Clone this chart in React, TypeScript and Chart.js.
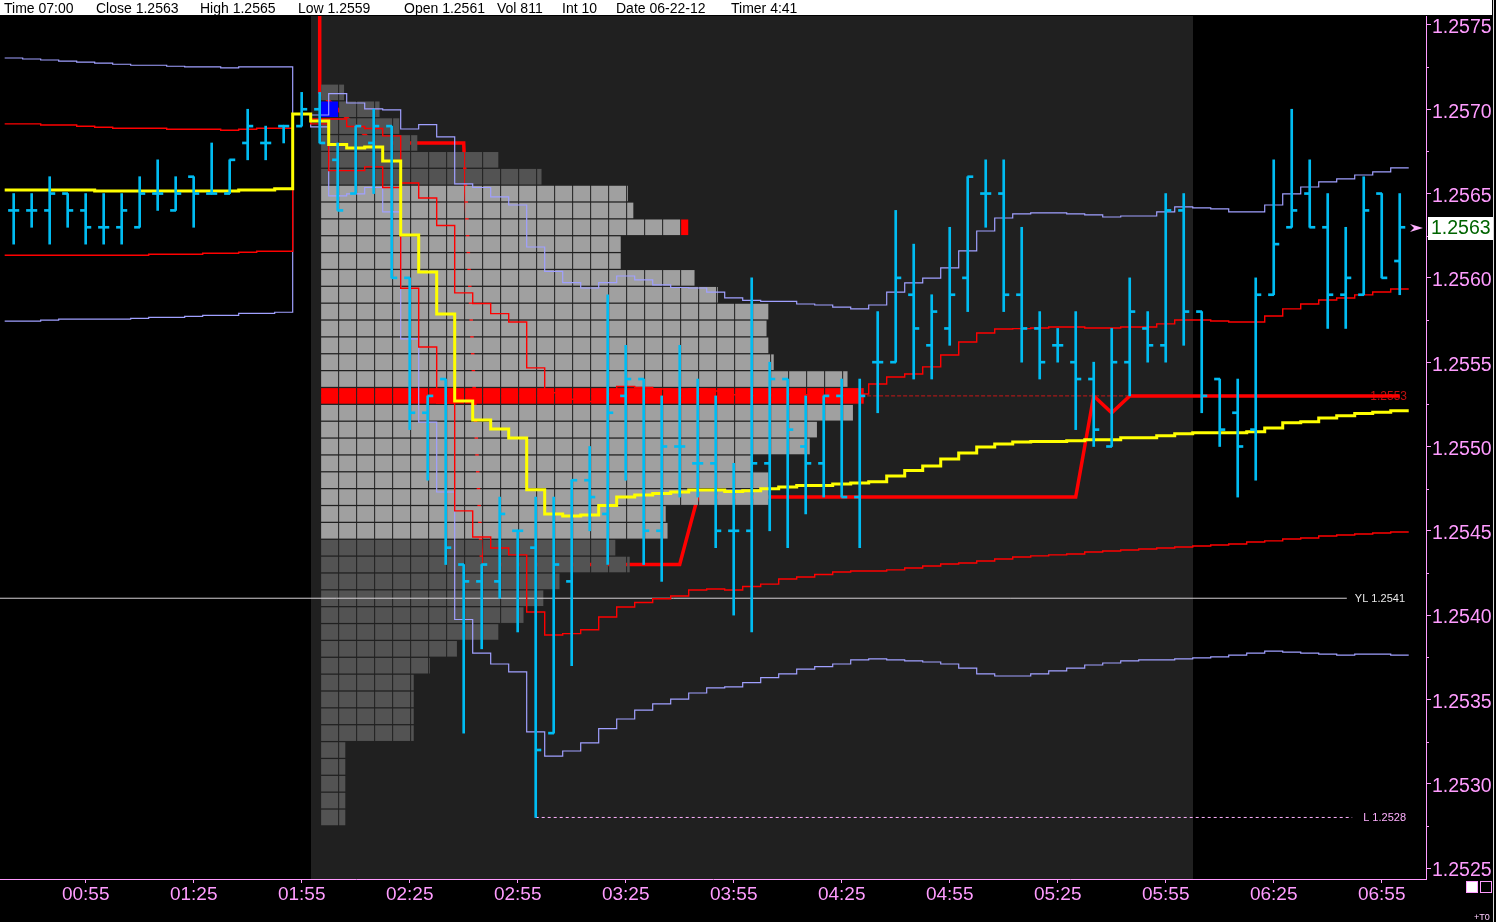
import React, { useEffect, useRef } from 'react';
import { Chart, registerables } from 'chart.js';

Chart.register(...registerables);

// ---------- header ----------
const headerItems = ['Time 07:00', 'Close 1.2563', 'High 1.2565', 'Low 1.2559', 'Open 1.2561', 'Vol 811', 'Int 10', 'Date 06-22-12', 'Timer 4:41'];

// ---------- axes ----------
const xTickLabels = ['00:55', '01:25', '01:55', '02:25', '02:55', '03:25', '03:55', '04:25', '04:55', '05:25', '05:55', '06:25', '06:55'];
const yTickLabels = ['1.2525', '1.2530', '1.2535', '1.2540', '1.2545', '1.2550', '1.2555', '1.2560', '1.2565', '1.2570', '1.2575'];

// ---------- 5-minute bars ----------
const barTimes = ['00:35','00:40','00:45','00:50','00:55','01:00','01:05','01:10','01:15','01:20','01:25','01:30','01:35','01:40','01:45','01:50','01:55',
  '02:00','02:05','02:10','02:15','02:20','02:25','02:30','02:35','02:40','02:45','02:50','02:55',
  '03:00','03:05','03:10','03:15','03:20','03:25','03:30','03:35','03:40','03:45','03:50','03:55',
  '04:00','04:05','04:10','04:15','04:20','04:25','04:30','04:35','04:40','04:45','04:50','04:55',
  '05:00','05:05','05:10','05:15','05:20','05:25','05:30','05:35','05:40','05:45','05:50','05:55',
  '06:00','06:05','06:10','06:15','06:20','06:25','06:30','06:35','06:40','06:45','06:50','06:55','07:00'];

const opens = [1.2564,1.2564,1.2564,1.2565,1.2564,1.2563,1.2563,1.2563,1.2565,1.2564,1.2566,1.2565,1.2565,1.2568,1.2568,1.2569,1.2569,
  1.2570,1.2567,1.2565,1.2568,1.2569,1.2560,1.2552,1.2554,1.2543,1.2542,1.2542,1.2545,
  1.2544,1.2533,1.2542,1.2548,1.2546,1.2553,1.2554,1.2545,1.2550,1.2549,1.2549,1.2545,
  1.2545,1.2549,1.2554,1.2550,1.2549,1.2553,1.2547,1.2555,1.2555,1.2559,1.2556,1.2557,
  1.2560,1.2565,1.2565,1.2559,1.2557,1.2556,1.2555,1.2554,1.2550,1.2555,1.2557,1.2556,
  1.2564,1.2558,1.2554,1.2552,1.2551,1.2559,1.2563,1.2565,1.2563,1.2559,1.2559,1.2565,1.2561];
const highs = [1.2565,1.2565,1.2566,1.2565,1.2565,1.2565,1.2565,1.2566,1.2567,1.2566,1.2566,1.2568,1.2567,1.2570,1.2569,1.2569,1.2571,
  1.2571,1.2568,1.2569,1.2570,1.2569,1.2560,1.2553,1.2554,1.2543,1.2543,1.2547,1.2545,
  1.2547,1.2547,1.2548,1.2550,1.2559,1.2556,1.2554,1.2553,1.2556,1.2554,1.2553,1.2549,
  1.2560,1.2555,1.2554,1.2553,1.2553,1.2554,1.2554,1.2558,1.2564,1.2562,1.2559,1.2563,
  1.2566,1.2567,1.2567,1.2563,1.2558,1.2557,1.2558,1.2555,1.2557,1.2560,1.2558,1.2565,
  1.2565,1.2558,1.2554,1.2554,1.2560,1.2567,1.2570,1.2567,1.2565,1.2563,1.2566,1.2565,1.2565];
const lows = [1.2562,1.2563,1.2562,1.2563,1.2562,1.2562,1.2562,1.2563,1.2564,1.2564,1.2563,1.2565,1.2565,1.2567,1.2567,1.2568,1.2569,
  1.2568,1.2564,1.2565,1.2565,1.2560,1.2551,1.2548,1.2543,1.2533,1.2538,1.2541,1.2539,
  1.2528,1.2533,1.2537,1.2545,1.2543,1.2548,1.2543,1.2542,1.2547,1.2547,1.2544,1.2540,
  1.2539,1.2545,1.2544,1.2546,1.2547,1.2547,1.2544,1.2552,1.2555,1.2554,1.2554,1.2556,
  1.2558,1.2563,1.2558,1.2555,1.2554,1.2555,1.2551,1.2550,1.2550,1.2553,1.2555,1.2555,
  1.2556,1.2552,1.2550,1.2547,1.2548,1.2559,1.2563,1.2563,1.2557,1.2557,1.2559,1.2560,1.2559];
const closes = [1.2564,1.2564,1.2565,1.2564,1.2563,1.2563,1.2564,1.2565,1.2565,1.2565,1.2565,1.2565,1.2567,1.2569,1.2568,1.2569,1.2570,
  1.2568,1.2564,1.2569,1.2569,1.2560,1.2552,1.2553,1.2544,1.2542,1.2543,1.2546,1.2545,
  1.2532,1.2543,1.2548,1.2547,1.2552,1.2554,1.2545,1.2550,1.2550,1.2549,1.2545,1.2545,
  1.2549,1.2554,1.2551,1.2549,1.2553,1.2547,1.2553,1.2555,1.2560,1.2557,1.2558,1.2559,
  1.2566,1.2565,1.2559,1.2557,1.2555,1.2556,1.2554,1.2551,1.2555,1.2558,1.2556,1.2564,
  1.2558,1.2553,1.2551,1.2550,1.2559,1.2562,1.2564,1.2563,1.2559,1.2560,1.2564,1.2560,1.2563];

// ---------- VWAP and bands (one value per bar) ----------
const vwapVals = [1.256521,1.256521,1.256521,1.256521,1.256521,1.256515,1.256515,1.256515,1.256515,1.256515,1.256515,1.256515,1.256515,1.256521,1.256521,1.256529,1.256972,
  1.256931,1.256791,1.256770,1.256776,1.256693,1.256254,1.256035,1.255786,1.255270,1.255157,1.255104,1.255050,
  1.254744,1.254600,1.254588,1.254594,1.254650,1.254701,1.254712,1.254721,1.254730,1.254742,1.254742,1.254733,
  1.254738,1.254750,1.254760,1.254768,1.254768,1.254778,1.254784,1.254791,1.254825,1.254857,1.254884,1.254926,
  1.254961,1.254997,1.255015,1.255027,1.255029,1.255029,1.255034,1.255040,1.255040,1.255052,1.255052,1.255064,
  1.255076,1.255082,1.255082,1.255082,1.255088,1.255110,1.255141,1.255147,1.255169,1.255183,1.255195,1.255203,1.255212];
const band2Up = [1.257304,1.257298,1.257292,1.257285,1.257279,1.257273,1.257267,1.257261,1.257261,1.257255,1.257251,1.257251,1.257245,1.257251,1.257251,1.257251,1.256972,
  1.256966,1.257093,1.257037,1.257002,1.256996,1.256883,1.256909,1.256836,1.256557,1.256536,1.256480,1.256432,
  1.256183,1.256038,1.255972,1.255940,1.255972,1.256011,1.255988,1.255958,1.255943,1.255940,1.255916,1.255881,
  1.255866,1.255860,1.255860,1.255845,1.255839,1.255827,1.255816,1.255839,1.255916,1.255970,1.255999,1.256059,
  1.256160,1.256278,1.256355,1.256379,1.256385,1.256385,1.256379,1.256373,1.256361,1.256367,1.256367,1.256391,
  1.256421,1.256415,1.256409,1.256391,1.256391,1.256432,1.256498,1.256539,1.256569,1.256587,1.256610,1.256628,1.256652];
const band1Up = [1.256913,1.256913,1.256907,1.256907,1.256899,1.256893,1.256887,1.256887,1.256887,1.256881,1.256881,1.256881,1.256875,1.256881,1.256887,1.256887,1.256972,
  1.256942,1.256942,1.256898,1.256886,1.256842,1.256563,1.256474,1.256311,1.255911,1.255848,1.255788,1.255738,
  1.255466,1.255319,1.255280,1.255267,1.255311,1.255356,1.255350,1.255341,1.255336,1.255341,1.255329,1.255307,
  1.255303,1.255306,1.255310,1.255307,1.255303,1.255303,1.255311,1.255371,1.255412,1.255430,1.255472,1.255543,
  1.255620,1.255673,1.255697,1.255699,1.255703,1.255709,1.255709,1.255703,1.255703,1.255709,1.255709,1.255727,
  1.255750,1.255750,1.255744,1.255738,1.255738,1.255774,1.255816,1.255845,1.255869,1.255881,1.255899,1.255916,1.255934];
const band1Dn = [1.256134,1.256134,1.256134,1.256134,1.256134,1.256134,1.256134,1.256134,1.256140,1.256140,1.256140,1.256146,1.256146,1.256152,1.256158,1.256158,1.256972,
  1.256913,1.256636,1.256636,1.256658,1.256536,1.255938,1.255590,1.255258,1.254618,1.254463,1.254398,1.254357,
  1.254018,1.253882,1.253890,1.253913,1.253989,1.254048,1.254075,1.254097,1.254113,1.254149,1.254155,1.254149,
  1.254170,1.254184,1.254214,1.254226,1.254241,1.254256,1.254262,1.254262,1.254268,1.254279,1.254291,1.254303,
  1.254309,1.254321,1.254333,1.254345,1.254351,1.254357,1.254362,1.254374,1.254380,1.254386,1.254392,1.254398,
  1.254404,1.254410,1.254416,1.254422,1.254434,1.254440,1.254451,1.254457,1.254469,1.254475,1.254481,1.254487,1.254493];
const band2Dn = [1.255743,1.255743,1.255749,1.255755,1.255755,1.255755,1.255755,1.255760,1.255766,1.255766,1.255772,1.255778,1.255778,1.255790,1.255790,1.255796,1.256972,
  1.256895,1.256486,1.256498,1.256536,1.256391,1.255638,1.255145,1.254730,1.253974,1.253775,1.253710,1.253663,
  1.253307,1.253164,1.253194,1.253242,1.253327,1.253384,1.253437,1.253473,1.253502,1.253538,1.253568,1.253574,
  1.253600,1.253629,1.253651,1.253680,1.253695,1.253710,1.253734,1.253740,1.253734,1.253728,1.253722,1.253710,
  1.253686,1.253651,1.253639,1.253639,1.253651,1.253669,1.253686,1.253704,1.253716,1.253728,1.253734,1.253734,
  1.253740,1.253746,1.253752,1.253763,1.253775,1.253787,1.253781,1.253775,1.253769,1.253763,1.253769,1.253769,1.253763];

// ---------- developing POC (session bars 02:00 .. 07:00) ----------
const devPocFrom = 1.2600;
const devPocVals = [1.2571,1.2570,1.2569,1.2568,1.2568,1.2568,1.2568,1.2568,1.2568,
  1.2543,1.2543,1.2543,1.2543,1.2543,1.2543,1.2543,1.2543,1.2543,1.2543,1.2543,1.2543,
  1.2547,1.2547,1.2547,1.2547,1.2547,1.2547,1.2547,1.2547,1.2547,1.2547,1.2547,
  1.2547,1.2547,1.2547,1.2547,1.2547,1.2547,1.2547,1.2547,1.2547,1.2547,1.2547,
  1.2553,1.2552,
  1.2553,1.2553,1.2553,1.2553,1.2553,1.2553,1.2553,1.2553,1.2553,1.2553,1.2553,1.2553,1.2553,1.2553,1.2553,1.2553];

// ---------- market profile ----------
const profilePrices = [1.2571,1.2570,1.2569,1.2568,1.2567,1.2566,1.2565,1.2564,1.2563,1.2562,1.2561,1.2560,1.2559,1.2558,1.2557,1.2556,1.2555,1.2554,1.2553,1.2552,1.2551,1.2550,
  1.2549,1.2548,1.2547,1.2546,1.2545,1.2544,1.2543,1.2542,1.2541,1.2540,1.2539,1.2538,1.2537,1.2536,1.2535,1.2534,1.2533,1.2532,1.2531,1.2530,1.2529,1.2528];
const profileCols = [1.33,3.3,4.4,5.4,9.9,12.3,17.1,17.4,20.45,16.7,16.7,20.8,22.1,24.9,24.8,24.9,25.2,29.3,30.2,29.6,27.6,27.2,
  24.0,24.9,24.9,19.2,19.3,16.4,17.2,13.3,12.4,11.3,9.9,7.6,6.1,5.2,5.2,5.2,5.2,1.4,1.4,1.4,1.4,1.4];
const pocPrice = 1.2553;
const vaHigh = 1.2565;
const vaLow = 1.2545;
const blueCell = { price: 1.2570, col: 0 };
const redCell = { price: 1.2563, col: 20 };

// ---------- reference levels ----------
const yestLow = 1.2541;
const sessionLow = 1.2528;
const lowTime = '03:00';
const sessionFirstBar = '02:00';
const sessionLastBar = '06:00';

// ---------- layout / style constants ----------
const headerX = [4, 96, 200, 298, 404, 497, 562, 616, 731];
const X_MIN = 31.2;
const X_MAX = 427.3;
const Y_MIN = 1.252435;
const Y_MAX = 1.257553;
const profileStart = 120.4;
const colMin = 5;
const colGap = 0.28;
const tickMin = 1.45;
const refEndYL = 405.3;
const refEndLow = 406.8;
const refEndPoc = 409.5;

const PINK = '#ff9cff';
const CYAN = '#00bcf2';
const FONT = '"Liberation Sans", Arial, sans-serif';

const toMin = (s: string) => {
  const [h, m] = s.split(':').map(Number);
  return h * 60 + m;
};
const fmtMin = (v: number) => {
  const h = Math.floor(v / 60);
  const m = Math.round(v - h * 60);
  return `${String(h).padStart(2, '0')}:${String(m).padStart(2, '0')}`;
};
const same = (a: number, b: number) => Math.abs(a - b) < 1e-7;

function buildChart(canvas: HTMLCanvasElement) {
  const t = barTimes.map(toMin);
  const sIdx = barTimes.indexOf(sessionFirstBar);

  const stepPts = (vals: number[]) => {
    const pts = vals.map((v, i) => ({ x: t[i], y: v }));
    pts.unshift({ x: t[0] - 2.5, y: vals[0] });
    pts.push({ x: t[t.length - 1] + 2.5, y: vals[vals.length - 1] });
    return pts;
  };

  const devPts = [{ x: t[sIdx], y: devPocFrom }, ...devPocVals.map((v, i) => ({ x: t[sIdx + i], y: v }))];

  const cellData: any[] = [];
  const cellColors: string[] = [];
  profilePrices.forEach((p, r) => {
    const w = profileCols[r];
    const n = Math.ceil(w - 1e-6);
    for (let k = 0; k < n; k++) {
      const x0 = profileStart + k * colMin;
      const x1 = profileStart + Math.min(k + 1, w) * colMin - colGap;
      let c = p > vaHigh + 1e-7 || p < vaLow - 1e-7 ? '#535353' : '#a0a0a0';
      if (same(p, pocPrice)) c = '#ff0000';
      if (same(p, blueCell.price) && k === blueCell.col) c = '#0000ff';
      if (same(p, redCell.price) && k === redCell.col) c = '#ff0000';
      cellData.push({ x: [x0, x1], y: p });
      cellColors.push(c);
    }
  });

  const lineBase = { type: 'line', pointRadius: 0, pointHoverRadius: 0, fill: false, tension: 0 };

  const datasets: any[] = [
    { ...lineBase, label: 'pocRef', data: [{ x: profileStart, y: pocPrice }, { x: refEndPoc, y: pocPrice }], borderColor: '#c81818', borderWidth: 1, borderDash: [4, 2], order: 20 },
    { ...lineBase, label: 'devPoc', data: devPts, borderColor: '#ff0000', borderWidth: 3.5, order: 15 },
    { type: 'bar', label: 'profile', indexAxis: 'y', data: cellData, backgroundColor: cellColors, barThickness: 15.6, grouped: false, borderWidth: 0, inflateAmount: 0, order: 12 },
    { ...lineBase, label: 'YL', data: [{ x: X_MIN, y: yestLow }, { x: refEndYL, y: yestLow }], borderColor: '#d4d0d4', borderWidth: 1, order: 8 },
    { ...lineBase, label: 'L', data: [{ x: toMin(lowTime), y: sessionLow }, { x: refEndLow, y: sessionLow }], borderColor: '#ffb0ff', borderWidth: 1, borderDash: [3, 3], order: 8 },
    { ...lineBase, label: 'band2Up', data: stepPts(band2Up), stepped: 'middle', borderColor: '#a0a0ff', borderWidth: 1.2, order: 7 },
    { ...lineBase, label: 'band2Dn', data: stepPts(band2Dn), stepped: 'middle', borderColor: '#a0a0ff', borderWidth: 1.2, order: 7 },
    { ...lineBase, label: 'band1Up', data: stepPts(band1Up), stepped: 'middle', borderColor: '#ff0000', borderWidth: 1.4, order: 6 },
    { ...lineBase, label: 'band1Dn', data: stepPts(band1Dn), stepped: 'middle', borderColor: '#ff0000', borderWidth: 1.4, order: 6 },
    { ...lineBase, label: 'vwap', data: stepPts(vwapVals), stepped: 'middle', borderColor: '#ffff00', borderWidth: 3, order: 5 },
    { type: 'bar', label: 'hilo', data: t.map((x, i) => ({ x, y: [lows[i], highs[i]] })), backgroundColor: CYAN, barThickness: 2, grouped: false, borderWidth: 0, order: 1 },
    { type: 'bar', label: 'open', indexAxis: 'y', data: t.map((x, i) => ({ y: opens[i], x: [x - tickMin, x] })), backgroundColor: CYAN, barThickness: 2, grouped: false, borderWidth: 0, order: 1 },
    { type: 'bar', label: 'close', indexAxis: 'y', data: t.map((x, i) => ({ y: closes[i], x: [x, x + tickMin] })), backgroundColor: CYAN, barThickness: 2, grouped: false, borderWidth: 0, order: 1 },
  ];

  const overlay = {
    id: 'overlay',
    beforeDraw(chart: any) {
      const ctx = chart.ctx;
      ctx.save();
      ctx.fillStyle = '#000';
      ctx.fillRect(0, 0, chart.width, chart.height);
      ctx.restore();
    },
    beforeDatasetsDraw(chart: any) {
      const { ctx, chartArea: a, scales } = chart;
      const x = scales.x, y = scales.y;
      const x0 = x.getPixelForValue(toMin(sessionFirstBar) - 2.5);
      const x1 = x.getPixelForValue(toMin(sessionLastBar) + 2.5);
      ctx.save();
      ctx.fillStyle = '#202020';
      ctx.fillRect(Math.round(x0), a.top, Math.round(x1) - Math.round(x0), a.bottom - a.top);
      ctx.font = `12px ${FONT}`;
      ctx.textAlign = 'right';
      ctx.textBaseline = 'middle';
      ctx.fillStyle = '#c01010';
      ctx.fillText(pocPrice.toFixed(4), a.right - 19, y.getPixelForValue(pocPrice) + 1);
      ctx.restore();
    },
    afterDraw(chart: any) {
      const { ctx, chartArea: a, scales } = chart;
      const y = scales.y;
      ctx.save();
      // minor y ticks
      ctx.strokeStyle = PINK;
      ctx.lineWidth = 1;
      for (let i = 0; i < yTickLabels.length - 1; i++) {
        const v = (parseFloat(yTickLabels[i]) + parseFloat(yTickLabels[i + 1])) / 2;
        const py = Math.round(y.getPixelForValue(v)) + 0.5;
        ctx.beginPath();
        ctx.moveTo(a.right, py);
        ctx.lineTo(a.right + 3, py);
        ctx.stroke();
      }
      // reference labels
      ctx.font = `11px ${FONT}`;
      ctx.textAlign = 'right';
      ctx.textBaseline = 'middle';
      ctx.fillStyle = '#e8e8e8';
      ctx.fillText(`YL ${yestLow.toFixed(4)}`, a.right - 21, y.getPixelForValue(yestLow) + 1);
      ctx.fillStyle = '#ffb0ff';
      ctx.fillText(`L ${sessionLow.toFixed(4)}`, a.right - 20, y.getPixelForValue(sessionLow) + 1);
      // last price box
      const last = closes[closes.length - 1];
      const lp = Math.round(y.getPixelForValue(last));
      ctx.fillStyle = '#ffffff';
      ctx.fillRect(a.right + 2, lp - 10, 65, 23);
      ctx.fillStyle = '#006400';
      ctx.font = `19.5px ${FONT}`;
      ctx.textAlign = 'left';
      ctx.fillText(last.toFixed(4), a.right + 5, lp + 2);
      // arrow
      ctx.fillStyle = '#ffb0ff';
      ctx.beginPath();
      ctx.moveTo(a.right - 16, lp - 3);
      ctx.lineTo(a.right - 3, lp + 1);
      ctx.lineTo(a.right - 16, lp + 5);
      ctx.lineTo(a.right - 12, lp + 1);
      ctx.closePath();
      ctx.fill();
      // bottom right icons
      ctx.fillStyle = '#ffffff';
      ctx.fillRect(1466, 881, 12, 12);
      ctx.strokeStyle = PINK;
      ctx.strokeRect(1466.5, 881.5, 11, 11);
      ctx.strokeRect(1480.5, 881.5, 11, 11);
      ctx.fillStyle = '#ffccff';
      ctx.font = `9px ${FONT}`;
      ctx.textAlign = 'left';
      ctx.textBaseline = 'alphabetic';
      ctx.fillText('+T0', 1474, 920);
      ctx.fillStyle = '#d8d8d8';
      ctx.fillRect(1493, 0, 1, chart.height);
      ctx.restore();
    },
  };

  return new Chart(canvas, {
    type: 'line',
    data: { datasets },
    options: {
      responsive: false,
      animation: false,
      devicePixelRatio: 1,
      events: [],
      layout: { padding: { top: 16, left: 0, right: 0, bottom: 0 } },
      plugins: { legend: { display: false }, tooltip: { enabled: false }, title: { display: false } },
      scales: {
        x: {
          type: 'linear',
          position: 'bottom',
          min: X_MIN,
          max: X_MAX,
          offset: false,
          beginAtZero: false,
          afterBuildTicks: (s: any) => {
            s.ticks = xTickLabels.map((l) => ({ value: toMin(l) }));
          },
          afterFit: (s: any) => {
            s.height = 43;
          },
          ticks: {
            color: PINK,
            font: { family: FONT, size: 19 },
            padding: 0,
            maxRotation: 0,
            autoSkip: false,
            callback: (v: any) => fmtMin(Number(v)),
          },
          grid: { display: true, offset: false, drawOnChartArea: false, drawTicks: true, tickLength: 4, color: PINK, lineWidth: 1 },
          border: { display: true, color: PINK, width: 1 },
        },
        y: {
          type: 'linear',
          position: 'right',
          min: Y_MIN,
          max: Y_MAX,
          offset: false,
          beginAtZero: false,
          afterBuildTicks: (s: any) => {
            s.ticks = yTickLabels.map((l) => ({ value: parseFloat(l) }));
          },
          afterFit: (s: any) => {
            s.width = 70;
          },
          ticks: {
            color: PINK,
            font: { family: FONT, size: 19.5 },
            padding: 1,
            labelOffset: 3,
            autoSkip: false,
            callback: (v: any) => Number(v).toFixed(4),
          },
          grid: { display: true, offset: false, drawOnChartArea: false, drawTicks: true, tickLength: 5, color: PINK, lineWidth: 1 },
          border: { display: true, color: PINK, width: 1 },
        },
      },
    } as any,
    plugins: [overlay as any],
  } as any);
}

export default function App() {
  const canvasRef = useRef<HTMLCanvasElement | null>(null);
  useEffect(() => {
    document.body.style.margin = '0';
    document.body.style.background = '#000';
    const chart = buildChart(canvasRef.current as HTMLCanvasElement);
    return () => chart.destroy();
  }, []);
  return (
    <div style={{ position: 'fixed', left: 0, top: 0, width: 1496, height: 922, background: '#000', overflow: 'hidden' }}>
      <canvas ref={canvasRef} width={1496} height={922} style={{ position: 'absolute', left: 0, top: 0, width: 1496, height: 922 }} />
      <div style={{ position: 'absolute', left: 0, top: 0, width: 1492, height: 15, background: '#fff', color: '#000', fontFamily: FONT, fontSize: 14, whiteSpace: 'nowrap' }}>
        {headerItems.map((s, i) => (
          <span key={i} style={{ position: 'absolute', left: headerX[i], top: 0, lineHeight: '16px' }}>{s}</span>
        ))}
      </div>
    </div>
  );
}
